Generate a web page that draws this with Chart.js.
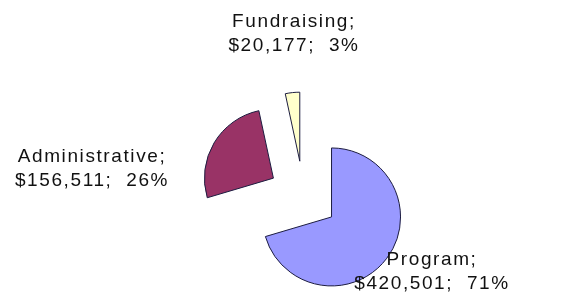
<!DOCTYPE html>
<html>
<head>
<meta charset="utf-8">
<script src="https://cdn.jsdelivr.net/npm/chart.js@4.4.1/dist/chart.umd.min.js"></script>
<style>
  html, body { margin: 0; padding: 0; background: #fff; }
  #wrap { width: 583px; height: 295px; }
</style>
</head>
<body>
<div id="wrap"><canvas id="pie"></canvas></div>
<script>
const categories = ['Program', 'Administrative', 'Fundraising'];
const amounts = [420501, 156511, 20177];
const percentLabels = ['71%', '26%', '3%'];

const sliceColors = ['#9999ff', '#993366', '#ffffcc'];
const explode = 35;

// where each label block is centred (x, y of first baseline)
const labelPos = [
  { x: 432, y: 265 },
  { x: 92, y: 162 },
  { x: 294, y: 27 },
];

// push every slice out along its bisector, like Excel's exploded pie
const explodePlugin = {
  id: 'explode',
  afterDatasetsUpdate(chart) {
    chart.getDatasetMeta(0).data.forEach(arc => {
      const mid = (arc.startAngle + arc.endAngle) / 2;
      arc.x += Math.cos(mid) * explode;
      arc.y += Math.sin(mid) * explode;
    });
  }
};

const labelPlugin = {
  id: 'sliceLabels',
  afterDraw(chart) {
    const ctx = chart.ctx;
    ctx.save();
    ctx.font = '19px "Liberation Sans", Arial, sans-serif';
    ctx.letterSpacing = '1.6px';
    ctx.fillStyle = '#111';
    ctx.textAlign = 'center';
    ctx.textBaseline = 'alphabetic';
    categories.forEach((c, i) => {
      const p = labelPos[i];
      const line2 = '$' + amounts[i].toLocaleString('en-US') + ';  ' + percentLabels[i];
      ctx.fillText(c + ';', p.x, p.y);
      ctx.fillText(line2, p.x, p.y + 24);
    });
    ctx.restore();
  }
};

new Chart(document.getElementById('pie'), {
  type: 'pie',
  data: {
    labels: categories,
    datasets: [{
      data: amounts,
      backgroundColor: sliceColors,
      borderColor: '#1c1c40',
      borderWidth: 1,
    }]
  },
  options: {
    responsive: true,
    maintainAspectRatio: false,
    animation: false,
    radius: 69,
    layout: { padding: { left: 24, right: 0, top: 97, bottom: 0 } },
    plugins: {
      legend: { display: false },
      tooltip: { enabled: false }
    }
  },
  plugins: [explodePlugin, labelPlugin]
});
</script>
</body>
</html>
